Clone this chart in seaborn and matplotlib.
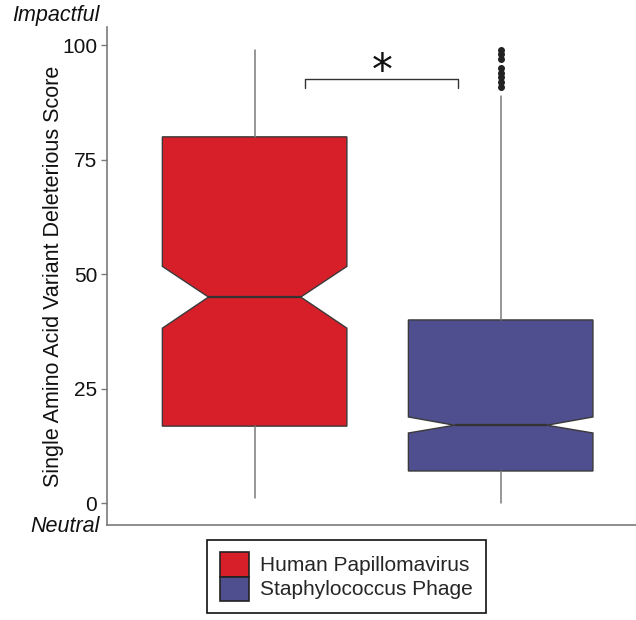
import matplotlib
matplotlib.use("Agg")
import matplotlib.pyplot as plt
from matplotlib.patches import Patch
import seaborn as sns

# Summary statistics of the deleterious score per virus
groups = ["Human Papillomavirus", "Staphylococcus Phage"]
colors = ["#D71F2A", "#4F4F8F"]
whisker_low = [1, 0]
q1 = [16.8, 7]
median = [45, 17]
q3 = [80, 40]
whisker_high = [99, 89]
notch_low = [38.2, 15.3]
notch_high = [51.7, 18.8]
outliers = [[], [91, 92, 93, 94, 95, 97, 98, 99]]

y_ticks = [0, 25, 50, 75, 100]

sns.set_theme(style="white")
plt.rcParams["font.family"] = ["Liberation Sans", "DejaVu Sans"]

fig = plt.figure(figsize=(6.36, 6.2), dpi=100)
ax = fig.add_axes([107 / 636, 95 / 620, 529 / 636, 498 / 620])

stats = []
for i, name in enumerate(groups):
    stats.append(dict(label=name, whislo=whisker_low[i], q1=q1[i], med=median[i],
                      q3=q3[i], whishi=whisker_high[i], cilo=notch_low[i],
                      cihi=notch_high[i], fliers=outliers[i]))

bp = ax.bxp(stats, positions=[0, 1], widths=0.75, shownotches=True,
            patch_artist=True, showcaps=False,
            boxprops=dict(edgecolor="#3a3a3a", linewidth=1.0),
            medianprops=dict(color="#333333", linewidth=1.6),
            whiskerprops=dict(color="#7a7a7a", linewidth=1.1),
            flierprops=dict(marker="o", markersize=4.0, markerfacecolor="#222222",
                            markeredgecolor="#222222"))
for patch, c in zip(bp["boxes"], colors):
    patch.set_facecolor(c)

ax.set_xlim(-0.6, 1.55)
ax.set_ylim(-4.8, 104)
ax.set_xticks([])
ax.set_yticks(y_ticks)
ax.set_yticklabels([str(t) for t in y_ticks], fontsize=15, color="#111111")
ax.tick_params(axis="y", length=4, width=1, color="#7a7a7a", left=True, pad=3)
for side in ["top", "right"]:
    ax.spines[side].set_visible(False)
for side in ["left", "bottom"]:
    ax.spines[side].set_color("#7a7a7a")
    ax.spines[side].set_linewidth(1.2)

ax.set_ylabel("Single Amino Acid Variant Deleterious Score", fontsize=15.5,
              color="#111111", labelpad=-1)

# Significance bracket
ax.plot([0.205, 0.205, 0.827, 0.827], [90.6, 92.6, 92.6, 90.6],
        color="#333333", linewidth=1.0)
ax.text(0.518, 94.2, "*", ha="center", va="center", fontsize=30,
        color="#111111", family="DejaVu Sans")

# Axis end annotations
fig.text(100 / 636, 1 - 16 / 620, "Impactful", ha="right", va="center",
         fontsize=15.5, style="italic", color="#111111")
fig.text(100 / 636, 1 - 527 / 620, "Neutral", ha="right", va="center",
         fontsize=15.5, style="italic", color="#111111")

handles = [Patch(facecolor=c, edgecolor="#222222", linewidth=1.2) for c in colors]
leg = fig.legend(handles, groups, loc="center",
                 bbox_to_anchor=(346.5 / 636, 1 - 576.5 / 620),
                 fontsize=15, frameon=True, fancybox=False, framealpha=1,
                 edgecolor="#111111", handlelength=1.4, handleheight=1.4,
                 labelspacing=0.0, handletextpad=0.55, borderpad=0.62)
leg.get_frame().set_linewidth(1.2)

fig.savefig("out.png", dpi=100)
